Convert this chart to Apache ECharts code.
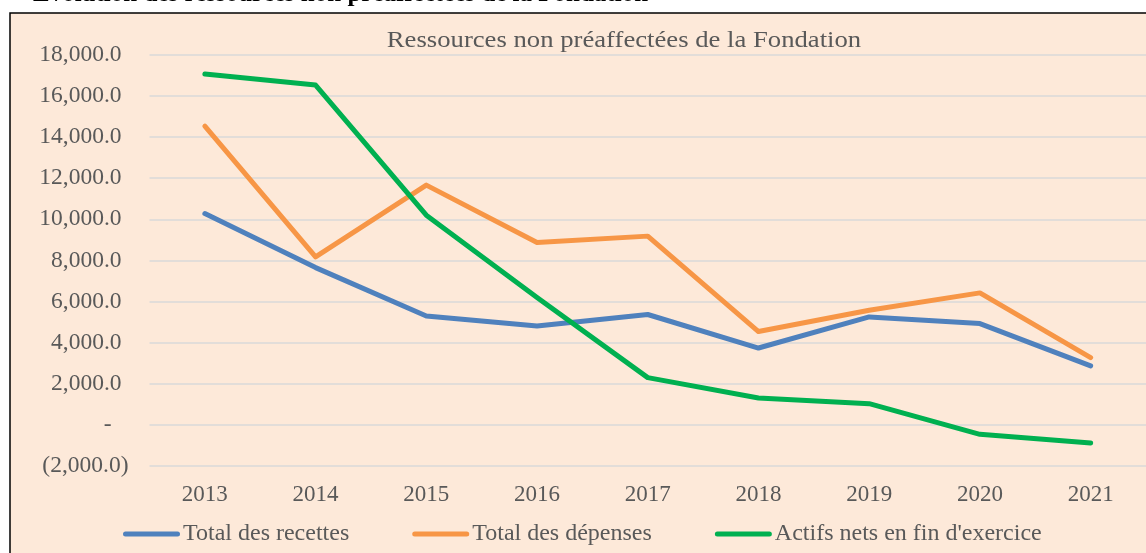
<!DOCTYPE html>
<html>
<head>
<meta charset="utf-8">
<script src="https://cdn.jsdelivr.net/npm/echarts@6/dist/echarts.min.js"></script>
<style>
html,body{margin:0;padding:0;background:#ffffff;}
#chart{width:1146px;height:553px;}
</style>
</head>
<body>
<div id="chart"></div>
<script>
var years = ['2013','2014','2015','2016','2017','2018','2019','2020','2021'];
var recettes = [10280, 7650, 5300, 4810, 5370, 3740, 5250, 4930, 2870];
var depenses = [14530, 8170, 11660, 8870, 9180, 4540, 5580, 6420, 3275];
var actifsNets = [17060, 16525, 10200, 6200, 2300, 1310, 1035, -457, -880];
var seriesNames = ['Total des recettes', 'Total des dépenses', "Actifs nets en fin d'exercice"];
var chartTitle = 'Ressources non préaffectées de la Fondation';
var headingText = 'Évolution des ressources non préaffectées de la Fondation';

var FONT = '"Liberation Serif", "Times New Roman", serif';
var TXT = '#595959';
var CAPSULE = 'path://M2.5,0 L54.5,0 A2.5,2.5 0 0 1 54.5,5 L2.5,5 A2.5,2.5 0 0 1 2.5,0 Z';

function fmt(v) {
  var a = Math.abs(v);
  return a.toLocaleString('en-US', {minimumFractionDigits: 1, maximumFractionDigits: 1});
}

var chart = echarts.init(document.getElementById('chart'));
chart.setOption({
  backgroundColor: '#ffffff',
  animation: false,
  graphic: [
    {type: 'rect', z: -10, shape: {x: 10, y: 13, width: 1200, height: 600},
     style: {fill: '#FDE9D9', stroke: '#000000', lineWidth: 1.5}},
    {type: 'text', z: 10, x: 624, y: 41, scaleX: 1.16, scaleY: 1.0,
     style: {text: chartTitle, x: 0, y: 0, align: 'center', verticalAlign: 'middle',
      font: '23px ' + FONT, fill: TXT}},
    {type: 'text', z: 10, x: 33, y: 7.3,
     style: {text: headingText, x: 0, y: 0, align: 'left', verticalAlign: 'bottom',
      font: 'bold 25px ' + FONT, fill: '#000000'}}
  ],
  grid: {left: 149.5, right: -1.5, top: 54.7, bottom: 86.9, containLabel: false},
  legend: {
    left: 123, top: 522, padding: 0,
    icon: CAPSULE, itemWidth: 57, itemHeight: 5.5, itemGap: 63,
    textStyle: {fontFamily: FONT, fontSize: 24, color: TXT, padding: [0, 0, 0, -2]},
    data: seriesNames
  },
  xAxis: {
    type: 'category', data: years, boundaryGap: true,
    axisLine: {show: false}, axisTick: {show: false},
    axisLabel: {fontFamily: FONT, fontSize: 23, color: TXT, margin: 17}
  },
  yAxis: {
    type: 'value', min: -2000, max: 18000, interval: 2000,
    axisLine: {show: false}, axisTick: {show: false},
    splitLine: {lineStyle: {color: '#D9D9D9', width: 1.5}},
    axisLabel: {
      margin: 21,
      formatter: function (v) {
        if (v === 0) return '{z|-}';
        if (v < 0) return '{n|(' + fmt(v) + ')}';
        return '{p|' + fmt(v) + '}';
      },
      rich: {
        p: {fontFamily: FONT, fontSize: 23.5, color: TXT, padding: [0, 7, 0, 0]},
        n: {fontFamily: FONT, fontSize: 23.5, color: TXT},
        z: {fontFamily: FONT, fontSize: 23.5, color: TXT, padding: [0, 17, 0, 0]}
      }
    }
  },
  series: [
    {name: seriesNames[0], type: 'line', data: recettes, symbol: 'none',
     lineStyle: {color: '#4F81BD', width: 5, cap: 'round', join: 'round'}, itemStyle: {color: '#4F81BD'}},
    {name: seriesNames[1], type: 'line', data: depenses, symbol: 'none',
     lineStyle: {color: '#F79646', width: 5, cap: 'round', join: 'round'}, itemStyle: {color: '#F79646'}},
    {name: seriesNames[2], type: 'line', data: actifsNets, symbol: 'none',
     lineStyle: {color: '#00B050', width: 5, cap: 'round', join: 'round'}, itemStyle: {color: '#00B050'}}
  ]
});
</script>
</body>
</html>
